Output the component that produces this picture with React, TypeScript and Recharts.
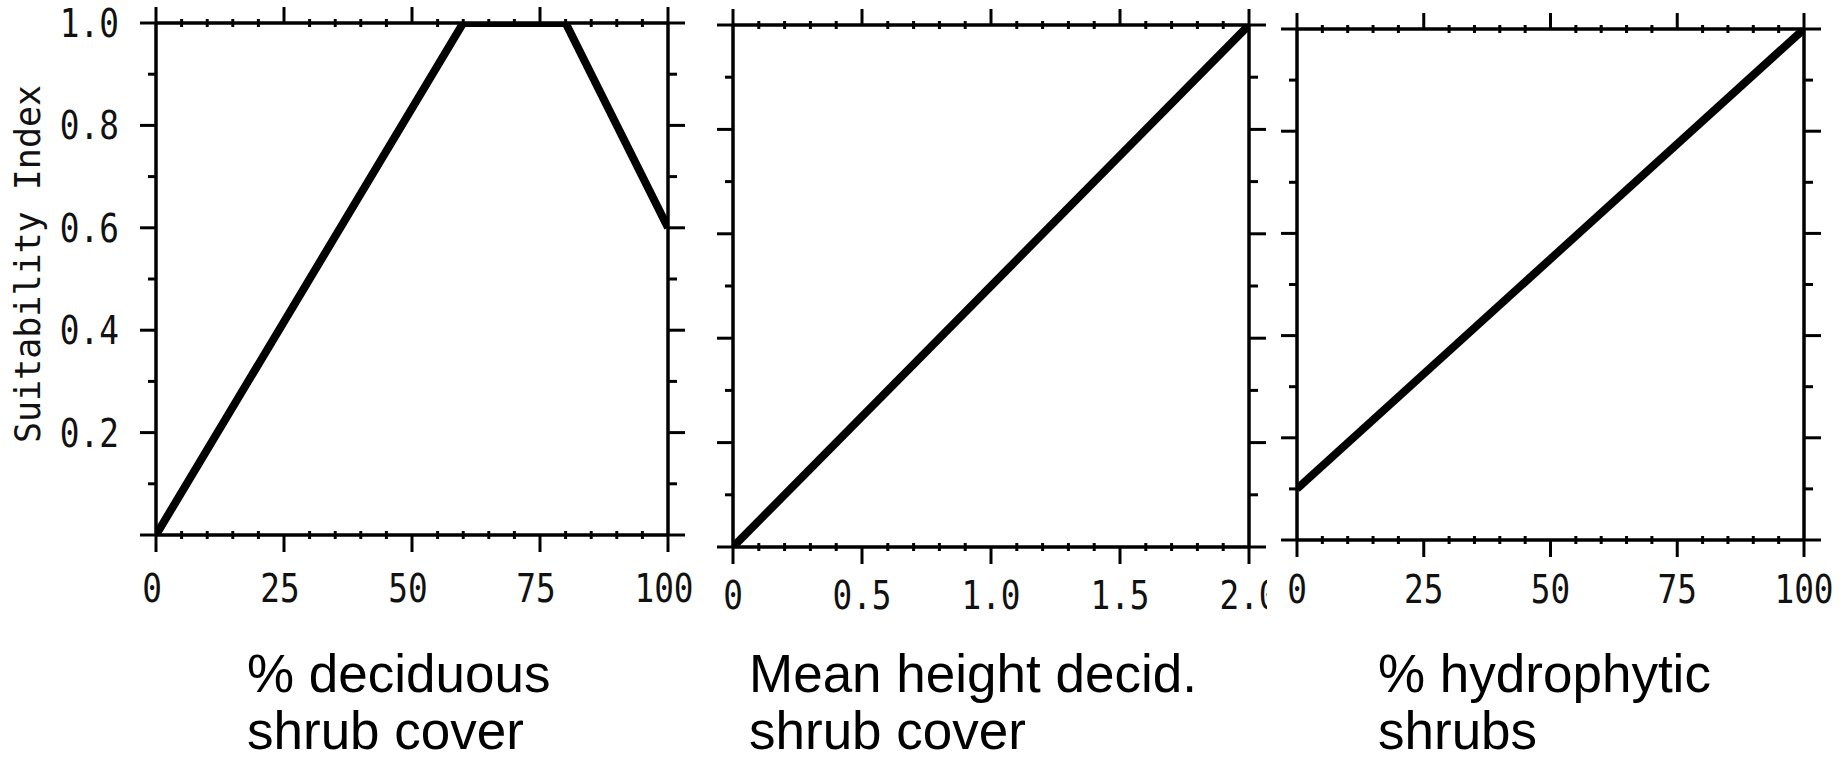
import { LineChart, Line, XAxis, YAxis, ReferenceLine } from "recharts";

// breakpoints of the three suitability curves
const coverX = [0, 60, 80, 100];
const coverSI = [0, 1.0, 1.0, 0.6];
const heightX = [0, 2.0];
const heightSI = [0, 1.0];
const hydroX = [0, 100];
const hydroSI = [0.1, 1.0];

// tick positions and labels
const pctMinor = [0, 5, 10, 15, 20, 25, 30, 35, 40, 45, 50, 55, 60, 65, 70, 75, 80, 85, 90, 95, 100];
const pctMajor = [0, 25, 50, 75, 100];
const pctLabels = ["0", "25", "50", "75", "100"];
const heightMinor = [0, 0.1, 0.2, 0.3, 0.4, 0.5, 0.6, 0.7, 0.8, 0.9, 1.0, 1.1, 1.2, 1.3, 1.4, 1.5, 1.6, 1.7, 1.8, 1.9, 2.0];
const heightMajor = [0, 0.5, 1.0, 1.5, 2.0];
const heightLabels = ["0", "0.5", "1.0", "1.5", "2.0"];
const siMinor = [0, 0.1, 0.2, 0.3, 0.4, 0.5, 0.6, 0.7, 0.8, 0.9, 1.0];
const siMajor = [0, 0.2, 0.4, 0.6, 0.8, 1.0];
const siLabels = ["", "0.2", "0.4", "0.6", "0.8", "1.0"];

const captions = [
  ["% deciduous", "shrub cover"],
  ["Mean height decid.", "shrub cover"],
  ["% hydrophytic", "shrubs"],
];

const TICK_FONT = "'DejaVu Sans Mono', monospace";
const INK = "#000";
const CHART_H = 625;
const AXIS_W = 3.5;
const TICK_W = 3;

const toPoints = (xs: number[], ys: number[]) => xs.map((x, i) => ({ x, si: ys[i] }));

const findMajor = (v: number, majors: number[]) => majors.findIndex((m) => Math.abs(m - v) < 1e-6);

function TickLabel({ x, y, anchor, text }: { x: number; y: number; anchor: string; text: string }) {
  return (
    <text
      transform={`translate(${x},${y}) scale(0.84,1)`}
      textAnchor={anchor}
      fontFamily={TICK_FONT}
      fontSize={39}
      fill="#111"
    >
      {text}
    </text>
  );
}

// x ticks: bottom side (with labels) and the mirrored ticks along the top frame
function makeXTick(majors: number[], labels: string[], topY: number, labelOff: number, labelDx: number) {
  return function XTick(props: any) {
    const { x, y, payload } = props;
    const i = findMajor(payload.value, majors);
    const major = i >= 0;
    return (
      <g>
        {major ? (
          <line x1={x} y1={y} x2={x} y2={y + 17} stroke={INK} strokeWidth={TICK_W} />
        ) : (
          <line x1={x} y1={y - 4} x2={x} y2={y + 4} stroke={INK} strokeWidth={TICK_W} />
        )}
        {major ? (
          <line x1={x} y1={topY - 16} x2={x} y2={topY} stroke={INK} strokeWidth={TICK_W} />
        ) : (
          <line x1={x} y1={topY - 4} x2={x} y2={topY + 4} stroke={INK} strokeWidth={TICK_W} />
        )}
        {major && labels[i] ? <TickLabel x={x + labelDx} y={y + labelOff} anchor="middle" text={labels[i]} /> : null}
      </g>
    );
  };
}

// y ticks: left side (optional labels) and the mirrored ticks along the right frame
function makeYTick(rightX: number, labels?: string[]) {
  return function YTick(props: any) {
    const { x, y, payload } = props;
    const i = findMajor(payload.value, siMajor);
    const major = i >= 0;
    const len = major ? 16 : 8;
    const text = major && labels ? labels[i] : "";
    return (
      <g>
        <line x1={x - len} y1={y} x2={x} y2={y} stroke={INK} strokeWidth={TICK_W} />
        <line x1={rightX} y1={y} x2={rightX + len + 1} y2={y} stroke={INK} strokeWidth={TICK_W} />
        {text ? <TickLabel x={x - 37} y={y + 14} anchor="end" text={text} /> : null}
      </g>
    );
  };
}

function SiTitle() {
  return (
    <text
      transform="translate(40,264) rotate(-90)"
      textAnchor="middle"
      fontFamily={TICK_FONT}
      fontSize={35}
      fill="#111"
    >
      Suitability Index
    </text>
  );
}

type PanelProps = {
  left: number;
  width: number;
  plot: { l: number; r: number; t: number; b: number };
  data: { x: number; si: number }[];
  xDomain: [number, number];
  xMinor: number[];
  xMajor: number[];
  xLabels: string[];
  xLabelOff: number;
  xLabelDx?: number;
  yLabels?: string[];
  title?: boolean;
  background?: string;
};

function Panel(p: PanelProps) {
  const axisLine = { stroke: INK, strokeWidth: AXIS_W };
  const margin = { top: p.plot.t, right: p.left + p.width - p.plot.r, bottom: 0, left: 0 };
  return (
    <div style={{ position: "absolute", left: p.left, top: 0, width: p.width, height: CHART_H, background: p.background }}>
      <LineChart width={p.width} height={CHART_H} data={p.data} margin={margin}>
        <XAxis
          dataKey="x"
          type="number"
          domain={p.xDomain}
          allowDataOverflow
          ticks={p.xMinor}
          interval={0}
          height={CHART_H - p.plot.b}
          tickSize={0}
          tickMargin={0}
          tickLine={false}
          axisLine={axisLine}
          tick={makeXTick(p.xMajor, p.xLabels, p.plot.t, p.xLabelOff, p.xLabelDx ?? 0)}
        />
        <YAxis
          type="number"
          domain={[0, 1]}
          allowDataOverflow
          ticks={siMinor}
          interval={0}
          width={p.plot.l - p.left}
          tickSize={0}
          tickMargin={0}
          tickLine={false}
          axisLine={axisLine}
          tick={makeYTick(p.plot.r - p.left, p.yLabels)}
          label={p.title ? <SiTitle /> : undefined}
        />
        <ReferenceLine y={1} stroke={INK} strokeWidth={AXIS_W} ifOverflow="visible" />
        <ReferenceLine x={p.xDomain[1]} stroke={INK} strokeWidth={AXIS_W} ifOverflow="visible" />
        <Line
          dataKey="si"
          type="linear"
          stroke={INK}
          strokeWidth={8}
          strokeLinejoin="miter"
          dot={false}
          activeDot={false}
          isAnimationActive={false}
        />
      </LineChart>
    </div>
  );
}

export default function App() {
  const capLeft = [247, 749, 1378];
  return (
    <div style={{ position: "absolute", left: 0, top: 0, width: 1847, height: 761, background: "#fff", overflow: "hidden" }}>
      <Panel
        left={0}
        width={700}
        plot={{ l: 156, r: 668, t: 23, b: 535 }}
        data={toPoints(coverX, coverSI)}
        xDomain={[0, 100]}
        xMinor={pctMinor}
        xMajor={pctMajor}
        xLabels={pctLabels}
        xLabelOff={67}
        xLabelDx={-4}
        yLabels={siLabels}
        title
      />
      <Panel
        left={693}
        width={597}
        plot={{ l: 733, r: 1249, t: 25, b: 547 }}
        data={toPoints(heightX, heightSI)}
        xDomain={[0, 2]}
        xMinor={heightMinor}
        xMajor={heightMajor}
        xLabels={heightLabels}
        xLabelOff={62}
      />
      <Panel
        left={1267}
        width={580}
        plot={{ l: 1297, r: 1804, t: 29, b: 540 }}
        data={toPoints(hydroX, hydroSI)}
        xDomain={[0, 100]}
        xMinor={pctMinor}
        xMajor={pctMajor}
        xLabels={pctLabels}
        xLabelOff={63}
        background="#fff"
      />
      {captions.map((lines, i) => (
        <div
          key={i}
          style={{
            position: "absolute",
            left: capLeft[i],
            top: 645,
            fontFamily: "'Liberation Sans', Arial, sans-serif",
            fontSize: 53,
            lineHeight: "57px",
            color: "#000",
            whiteSpace: "nowrap",
          }}
        >
          {lines.map((t) => (
            <div key={t}>{t}</div>
          ))}
        </div>
      ))}
    </div>
  );
}
